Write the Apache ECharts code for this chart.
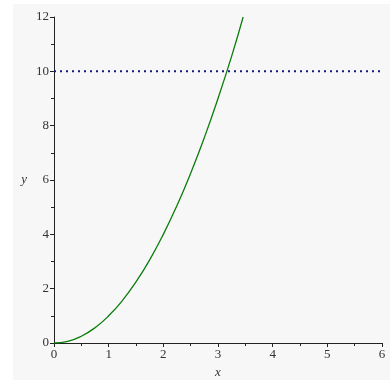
<!DOCTYPE html>
<html>
<head>
<meta charset="utf-8">
<script src="https://cdn.jsdelivr.net/npm/echarts@6/dist/echarts.min.js"></script>
<style>
  html, body { margin: 0; padding: 0; background: #fff; }
  #main { width: 390px; height: 380px; }
</style>
</head>
<body>
<div id="main"></div>
<script>
// curve points
const curveX = [0, 0.25, 0.5, 0.75, 1, 1.25, 1.5, 1.75, 2, 2.25, 2.5, 2.75, 3, 3.25, 3.46];
const curveY = [0, 0.06, 0.25, 0.56, 1, 1.56, 2.25, 3.06, 4, 5.06, 6.25, 7.56, 9, 10.56, 12];
const levelY = 10;
const xTicks = [0, 1, 2, 3, 4, 5, 6];
const yTicks = [0, 2, 4, 6, 8, 10, 12];

const serif = 'Liberation Serif';
const chart = echarts.init(document.getElementById('main'));

chart.setOption({
  animation: false,
  graphic: [
    { type: 'rect', left: 13, top: 4, shape: { width: 377, height: 376 }, style: { fill: '#f7f7f7' }, z: -10 }
  ],
  grid: { left: 54, right: 8, top: 17, bottom: 37, containLabel: false, outerBoundsMode: 'none' },
  xAxis: {
    type: 'value', min: xTicks[0], max: xTicks[xTicks.length - 1], interval: 1,
    name: 'x', nameLocation: 'middle', nameGap: 21,
    nameTextStyle: { fontFamily: serif, fontStyle: 'italic', fontSize: 13, color: '#333' },
    axisLine: { show: true, lineStyle: { color: '#222', width: 1 } },
    axisTick: { show: true, length: 4, lineStyle: { color: '#222' } },
    minorTick: { show: true, splitNumber: 2, length: 3, lineStyle: { color: '#222' } },
    axisLabel: { fontFamily: serif, fontSize: 13, color: '#333', margin: 5 },
    splitLine: { show: false }
  },
  yAxis: {
    type: 'value', min: yTicks[0], max: yTicks[yTicks.length - 1], interval: 2,
    name: 'y', nameLocation: 'middle', nameGap: 27, nameRotate: 0,
    nameTextStyle: { fontFamily: serif, fontStyle: 'italic', fontSize: 13, color: '#333' },
    axisLine: { show: true, lineStyle: { color: '#222', width: 1 } },
    axisTick: { show: true, length: 4, lineStyle: { color: '#222' } },
    minorTick: { show: true, splitNumber: 2, length: 3, lineStyle: { color: '#222' } },
    axisLabel: { fontFamily: serif, fontSize: 13, color: '#333', margin: 5 },
    splitLine: { show: false }
  },
  series: [
    {
      type: 'line',
      data: curveX.map((x, i) => [x, curveY[i]]),
      smooth: true,
      showSymbol: false,
      lineStyle: { color: '#0a7d0a', width: 1.3 }
    },
    {
      type: 'line',
      data: [[xTicks[0], levelY], [xTicks[xTicks.length - 1], levelY]],
      showSymbol: false,
      lineStyle: { color: '#1a1a80', width: 2, type: [2, 4] }
    }
  ]
});
</script>
</body>
</html>
